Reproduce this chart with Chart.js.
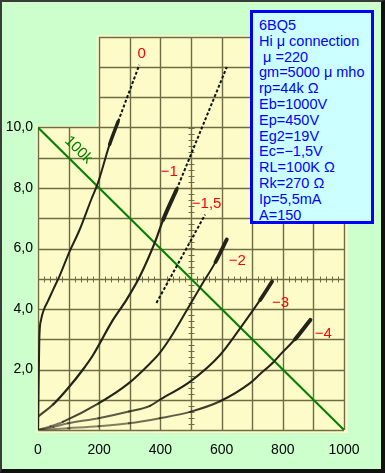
<!DOCTYPE html>
<html>
<head>
<meta charset="utf-8">
<script src="https://cdn.jsdelivr.net/npm/chart.js@4/dist/chart.umd.min.js"></script>
<style>
  html, body { margin:0; padding:0; background:#ccffcc; }
  #wrap { position:relative; width:385px; height:473px; overflow:hidden; background:#ccffcc; }
  #c { position:absolute; left:0; top:0; }
  #frame { position:absolute; left:0; top:0; width:385px; height:473px; box-sizing:border-box;
    border-top:2px solid #3a3a3a; border-left:2px solid #3a3a3a; border-right:4px solid #111; border-bottom:4px solid #111; pointer-events:none; }
  #info { position:absolute; left:250px; top:10px; width:124px; height:214px; box-sizing:border-box;
    border:3px solid #0000ff; background:#ccffff; color:#0000ff;
    font:14.5px "Liberation Sans", Arial, sans-serif; line-height:15.8px; padding:5px 0 0 6px; white-space:pre; }
</style>
</head>
<body>
<div id="wrap">
  <canvas id="c" width="385" height="473"></canvas>
  <div id="info">6BQ5
Hi μ connection
 μ =220
gm=5000 μ mho
rp=44k Ω
Eb=1000V
Ep=450V
Eg2=19V
Ec=−1,5V
RL=100K Ω
Rk=270 Ω
Ip=5,5mA
A=150</div>
  <div id="frame"></div>
</div>
<script>
// ---- data (plate volts V, plate current mA) ----
const xTickValues = [0, 200, 400, 600, 800, 1000];
const yTickValues = [2, 4, 6, 8, 10];

const ec0V  = [0, 2, 4, 5, 10, 20, 32, 50, 70, 101, 136, 174, 196, 234, 262];
const ec0I  = [0, 1.5, 2.8, 3.2, 3.64, 4.0, 4.25, 4.65, 5.08, 5.85, 6.62, 7.62, 8.17, 9.44, 10.2];

const ecm1V = [0, 50, 98, 147, 180, 245, 289, 333, 382, 409, 453];
const ecm1I = [0.44, 0.85, 1.38, 2.0, 2.48, 3.64, 4.3, 5.08, 6.2, 6.95, 7.95];

const ecm2V = [0, 40, 81, 198, 297, 366, 398, 442, 500, 535, 580, 617];
const ecm2I = [0, 0.12, 0.27, 0.88, 1.55, 2.2, 2.55, 3.2, 4.2, 4.8, 5.55, 6.3];

const ecm3V = [0, 50, 98, 198, 297, 366, 398, 497, 595, 661, 726, 765];
const ecm3I = [0, 0.1, 0.22, 0.39, 0.61, 0.8, 1.0, 1.6, 2.48, 3.37, 4.3, 4.91];

const ecm4V = [0, 98, 198, 297, 398, 497, 595, 693, 726, 770, 797, 840, 890];
const ecm4I = [0, 0.06, 0.12, 0.22, 0.39, 0.6, 0.95, 1.55, 1.85, 2.25, 2.55, 3.0, 3.64];

const dash0V   = [262, 331];  const dash0I   = [10.2, 12.07];
const dash1V   = [453, 617];  const dash1I   = [7.95, 12.0];
const dash15V  = [387, 546];  const dash15I  = [4.2, 7.12];

const loadV = [0, 1000];
const loadI = [10, 0];

const curveLabels = ['0', '−1', '−1,5', '−2', '−3', '−4'];
const curveLabelV = [339, 429, 551, 651, 793, 932];
const curveLabelI = [12.45, 8.54, 7.49, 5.6, 4.19, 3.17];
const loadLabel = '100k';
const loadLabelV = 132, loadLabelI = 9.26;

// ---- styles ----
const PAPER = '#fdfcc8';
const GRID = '#6f6c45';
const INK = [36, 35, 24];
const FONT = '"Liberation Sans", Arial, sans-serif';

const pts = (V, I) => V.map((v, k) => ({ x: v, y: I[k] }));

function curve(V, I, thin, thick, thickFrom) {
  return {
    data: pts(V, I),
    borderColor: `rgb(${INK.join(',')})`,
    borderWidth: thin,
    pointRadius: 0,
    cubicInterpolationMode: 'monotone',
    borderCapStyle: 'round',
    borderJoinStyle: 'round',
    segment: {
      borderWidth: c => (c.p0.parsed.y >= thickFrom ? thick : thin),
      borderColor: c => {
        const a = Math.max(0.5, Math.min(1, 0.5 + 0.4 * c.p1.parsed.y));
        return `rgba(${INK.join(',')},${a})`;
      }
    }
  };
}
function dashed(V, I) {
  return { data: pts(V, I), borderColor: '#111', borderWidth: 2, borderDash: [3, 2], pointRadius: 0 };
}

const datasets = [
  curve(ec0V, ec0I, 2, 3.5, 8.6),
  curve(ecm1V, ecm1I, 2.2, 4, 6.9),
  curve(ecm2V, ecm2I, 2, 3.8, 5.5),
  curve(ecm3V, ecm3I, 2, 3.8, 4.0),
  curve(ecm4V, ecm4I, 2, 4, 2.9),
  dashed(dash0V, dash0I),
  dashed(dash1V, dash1I),
  dashed(dash15V, dash15I),
  { data: pts(loadV, loadI), borderColor: '#008000', borderWidth: 2, pointRadius: 0 }
];

const paperPlugin = {
  id: 'paper',
  beforeDatasetsDraw(chart) {
    const { ctx, scales: { x, y } } = chart;
    const X = v => x.getPixelForValue(v), Y = i => y.getPixelForValue(i);
    ctx.save();
    ctx.fillStyle = PAPER;
    ctx.beginPath();
    ctx.moveTo(X(0) - 1.5, Y(0) + 3);
    ctx.lineTo(X(1000) + 3.5, Y(0) + 3);
    ctx.lineTo(X(1000) + 3.5, Y(13) - 1.5);
    ctx.lineTo(X(200) - 2.5, Y(13) - 1.5);
    ctx.lineTo(X(200) - 2.5, Y(10) - 1.5);
    ctx.lineTo(X(0) - 1.5, Y(10) - 1.5);
    ctx.closePath();
    ctx.fill();
    // grid
    ctx.strokeStyle = GRID;
    ctx.lineWidth = 1.4;
    ctx.beginPath();
    for (let v = 0; v <= 1000; v += 100) {
      const px = Math.round(X(v)) + 0.5;
      ctx.moveTo(px, Y(0));
      ctx.lineTo(px, v >= 200 ? Y(13) : Y(10));
    }
    for (let i = 0; i <= 13; i++) {
      const py = Math.round(Y(i)) + 0.5;
      ctx.moveTo(i > 10 ? X(200) : X(0), py);
      ctx.lineTo(X(1000), py);
    }
    ctx.stroke();
    // minor ticks
    ctx.lineWidth = 1;
    ctx.beginPath();
    const y5 = Math.round(Y(5)) + 0.5;
    for (let v = 0; v <= 1000; v += 20) {
      const px = Math.round(X(v)) + 0.5;
      ctx.moveTo(px, y5 - 3); ctx.lineTo(px, y5 + 3);
    }
    const x5 = Math.round(X(500)) + 0.5;
    for (let i = 0; i <= 10.01; i += 0.2) {
      const py = Math.round(Y(i)) + 0.5;
      ctx.moveTo(x5 - 3, py); ctx.lineTo(x5 + 3, py);
    }
    ctx.stroke();
    ctx.restore();
  },
  afterDatasetsDraw(chart) {
    const { ctx, scales: { x, y } } = chart;
    ctx.save();
    ctx.font = '15px ' + FONT;
    ctx.fillStyle = '#ff0000';
    ctx.textAlign = 'center';
    ctx.textBaseline = 'middle';
    curveLabels.forEach((t, k) => {
      ctx.fillText(t, x.getPixelForValue(curveLabelV[k]), y.getPixelForValue(curveLabelI[k]));
    });
    ctx.fillStyle = '#008000';
    ctx.translate(x.getPixelForValue(loadLabelV), y.getPixelForValue(loadLabelI));
    ctx.rotate(Math.atan2(y.getPixelForValue(0) - y.getPixelForValue(10), x.getPixelForValue(1000) - x.getPixelForValue(0)));
    ctx.fillText(loadLabel, 0, 0);
    ctx.restore();
  }
};

new Chart(document.getElementById('c'), {
  type: 'line',
  data: { datasets },
  options: {
    responsive: false,
    animation: false,
    events: [],
    layout: { padding: { left: 0, right: 41, top: 36.75, bottom: 0 } },
    plugins: { legend: { display: false }, tooltip: { enabled: false } },
    scales: {
      x: {
        type: 'linear', min: 0, max: 1000,
        afterBuildTicks: s => { s.ticks = xTickValues.map(v => ({ value: v })); },
        afterFit: s => { s.height = 43; },
        grid: { display: false, drawTicks: false },
        border: { display: false },
        ticks: { color: '#000', font: { family: FONT, size: 14 }, padding: 12, maxRotation: 0, autoSkip: false,
                 callback: v => String(v) }
      },
      y: {
        type: 'linear', min: 0, max: 13,
        afterBuildTicks: s => { s.ticks = yTickValues.map(v => ({ value: v })); },
        afterFit: s => { s.width = 38; },
        grid: { display: false, drawTicks: false },
        border: { display: false },
        ticks: { color: '#000', font: { family: FONT, size: 14 }, padding: 5, autoSkip: false,
                 callback: v => v.toFixed(1).replace('.', ',') }
      }
    }
  },
  plugins: [paperPlugin]
});
</script>
</body>
</html>
